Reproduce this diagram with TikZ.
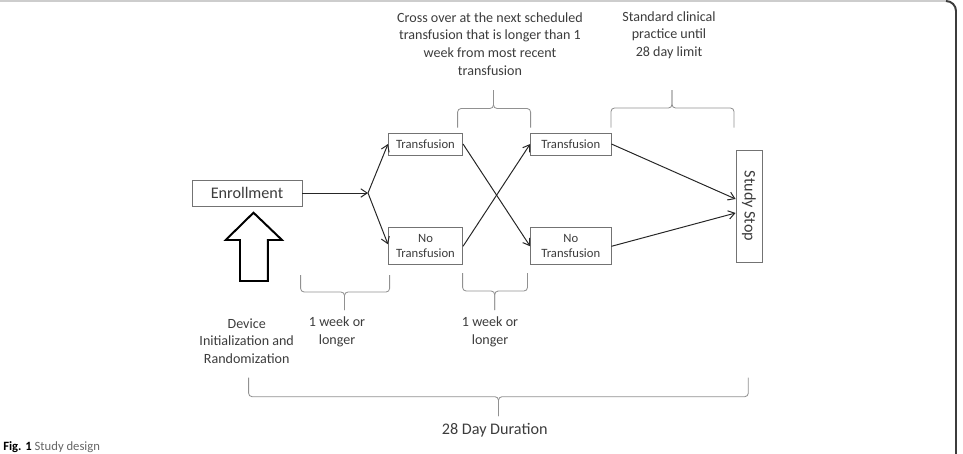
\documentclass[tikz,border=0pt]{standalone}
\usepackage{fontspec}
\setmainfont{Carlito}
\usetikzlibrary{arrows.meta}
\definecolor{InkGray}{RGB}{60,60,60}
\definecolor{EdgeGray}{RGB}{115,115,115}
\definecolor{BraceGray}{RGB}{145,145,145}
\definecolor{FrameGray}{RGB}{205,205,205}
\tikzset{
	stage/.style={draw=EdgeGray,line width=0.6pt,fill=white,inner sep=1pt,align=center,
		text=InkGray,font=\fontsize{9}{10.9}\selectfont},
	bigstage/.style={stage,font=\fontsize{11.5}{13}\selectfont},
	note/.style={align=center,text=InkGray,inner sep=0pt,font=\fontsize{10}{12.6}\selectfont},
	link/.style={draw=black!85,line width=0.7pt,-{Straight Barb[length=4.5pt,width=6pt]}},
	brk/.style={draw=BraceGray,line width=0.6pt,rounded corners=2.5pt},
}

\begin{document}
\begin{tikzpicture}[x=0.025cm,y=-0.025cm]
	\path[use as bounding box,clip] (0,0) rectangle (963,454);
	% frame of the figure
	\draw[FrameGray,line width=1.2pt] (0,1) -- (946,1);
	\draw[InkGray,line width=1.4pt] (946,1) arc[start angle=90,end angle=0,radius=0.25cm] -- (956,454);
	% boxes
	\node[bigstage,minimum width=2.75cm,minimum height=0.65cm] (enrol) at (247,193) {Enrollment};
	\node[stage,minimum width=1.855cm,minimum height=0.55cm] (t1) at (425.5,144) {Transfusion};
	\node[stage,minimum width=1.855cm,minimum height=0.93cm] (nt1) at (425.5,246.3) {No\\Transfusion};
	\node[stage,minimum width=2.01cm,minimum height=0.55cm] (t2) at (570.8,144) {Transfusion};
	\node[stage,minimum width=2.01cm,minimum height=0.93cm] (nt2) at (570.8,246.3) {No\\Transfusion};
	\node[bigstage,minimum width=0.65cm,minimum height=2.8cm] (stop) at (749,206) {\rotatebox{-90}{Study Stop}};
	\coordinate (split) at (368,193);
	% arrows
	\draw[link] (enrol) -- (split);
	\draw[link] (split) -- (t1.west);
	\draw[link] (split) -- ([yshift=0.05cm]nt1.west);
	\draw[link] (t1.east) -- (nt2.west);
	\draw[link] (nt1.east) -- (t2.west);
	\draw[link] (t2.east) -- ([yshift=0.175cm]stop.west);
	\draw[link] (nt2.east) -- ([yshift=-0.175cm]stop.west);
	% hollow arrow below enrollment
	\draw[black,line width=1.4pt,line join=miter] (253.5,212.7) -- (282,240) -- (267.8,240) -- (267.8,281)
		-- (240,281) -- (240,240) -- (225.7,240) -- cycle;
	% braces
	\foreach \xa/\xb/\xm/\ye/\yh/\yt in {457.6/530.6/493.5/127.7/108.5/90,
		611/734/672/127.7/108/90, 300.6/389.6/344.5/275/292/310,
		462.6/527.5/494.7/273/291/310, 248.6/748.3/498.5/377.7/396.7/416}{
		\draw[brk] (\xa,\ye) -- (\xa,\yh) -- (\xm,\yh) -- (\xm,\yt);
		\draw[brk] (\xb,\ye) -- (\xb,\yh) -- (\xm,\yh) -- (\xm,\yt);
	}
	% labels
	\node[note] (cross) at (490,44) {Cross over at the next scheduled\\transfusion that is longer than 1\\week from most recent\\transfusion};
	\node[note] (std) at (669,35) {Standard clinical\\practice until\\28 day limit};
	\node[note] (init) at (246.7,341) {Device\\Initialization and\\Randomization};
	\node[note] (wk1) at (337,331.5) {1 week or\\longer};
	\node[note] (wk2) at (490,331.5) {1 week or\\longer};
	\node[note,font=\fontsize{11.5}{13}\selectfont] (dur) at (494.7,430) {28 Day Duration};
	\node[anchor=base west,inner sep=0pt,font=\fontsize{9}{11}\selectfont] (cap) at (3,450)
		{\textbf{Fig. 1}\ \textcolor{black!60}{Study design}};
\end{tikzpicture}
\end{document}
